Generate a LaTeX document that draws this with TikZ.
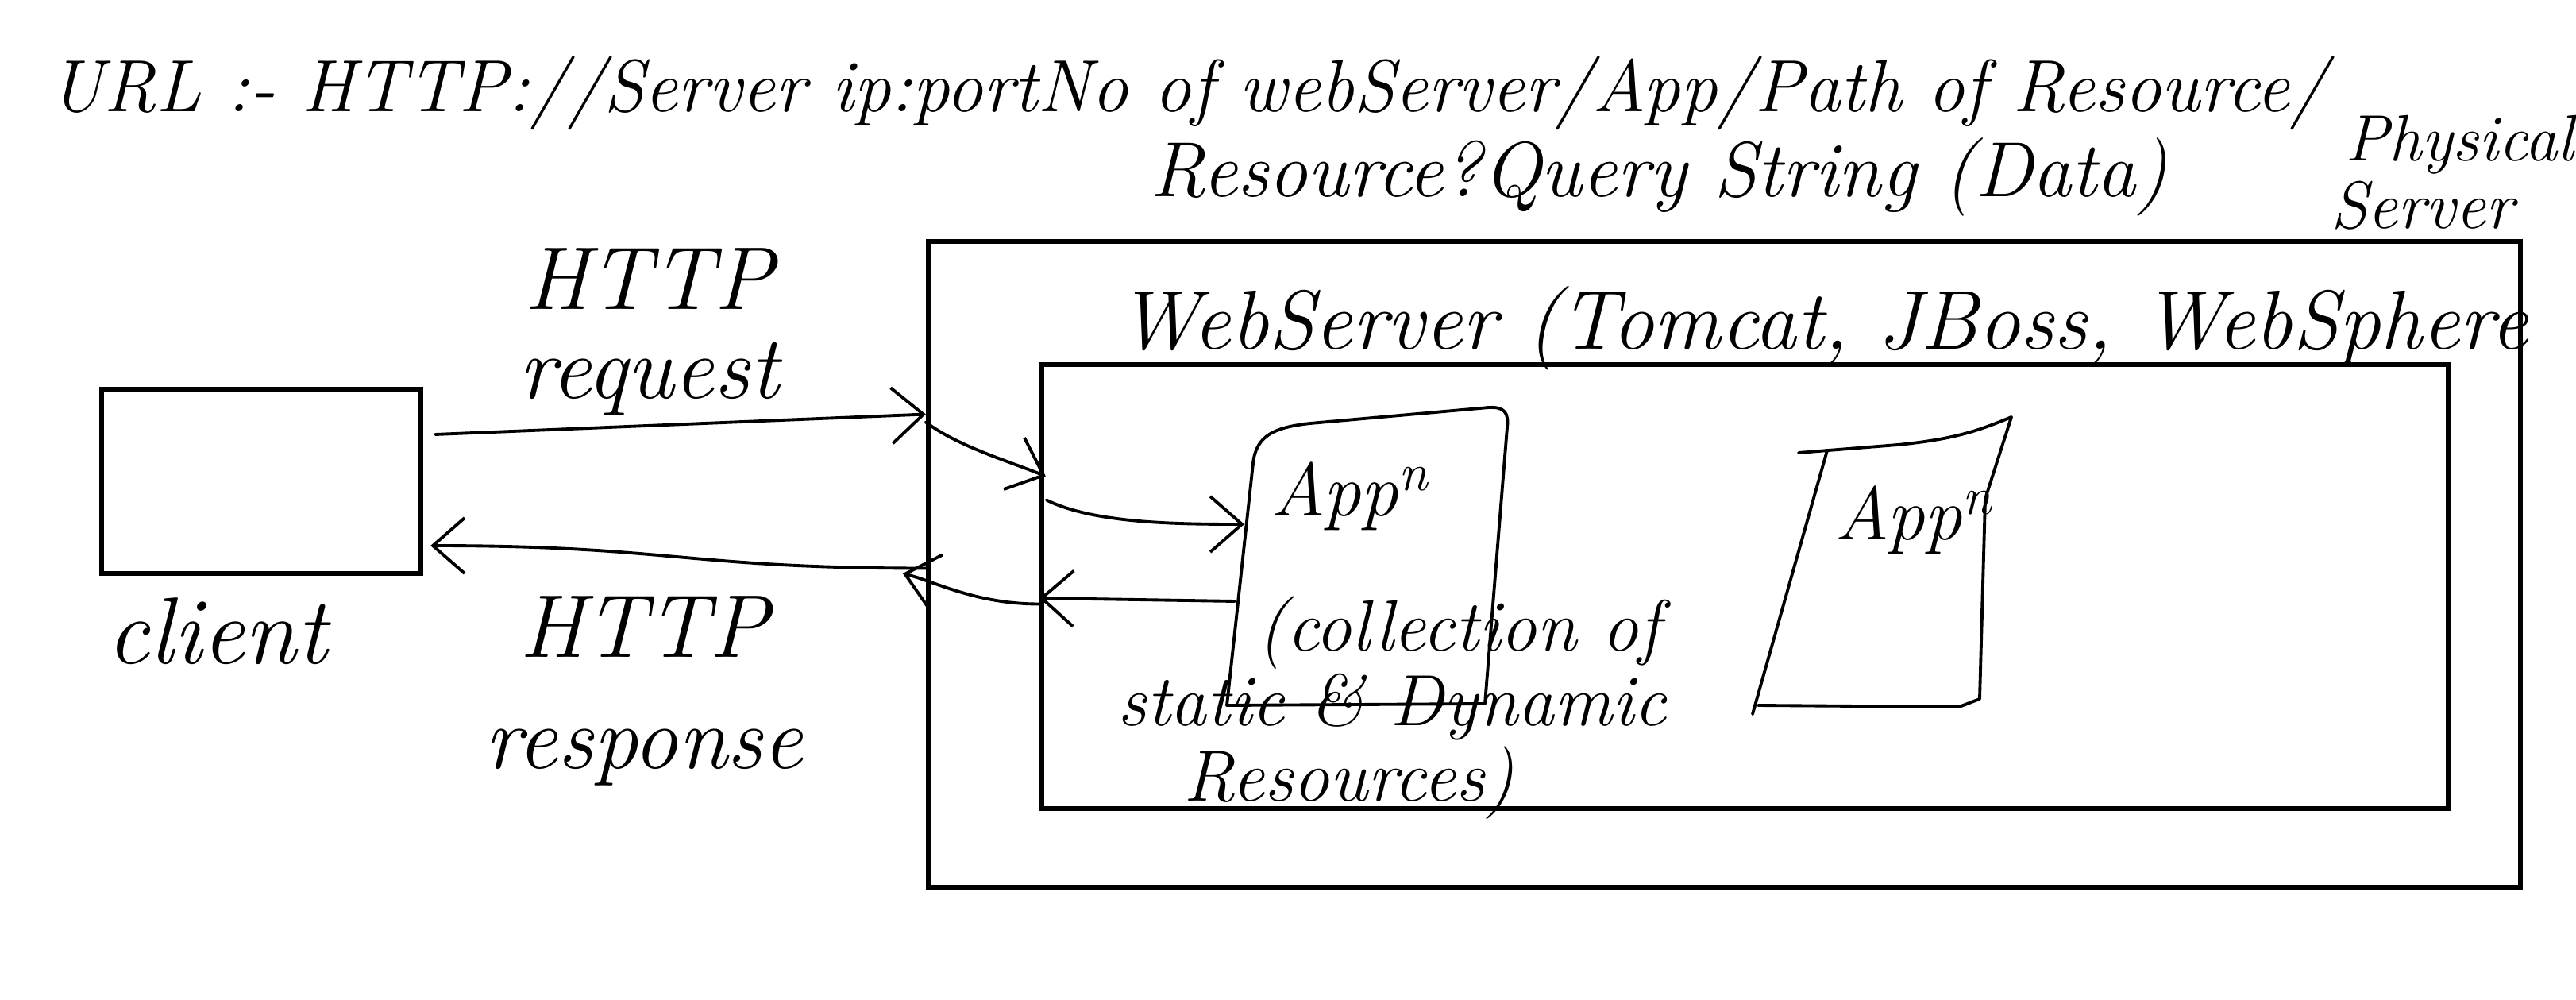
\documentclass[tikz,border=0pt]{standalone}
\usepackage{tikz}
\usetikzlibrary{arrows.meta,calc}
\tikzset{
  frame/.style={draw=black,line width=1.8pt,inner sep=0pt},
  sketch/.style={black,line width=1.1pt,line cap=round,line join=round},
  flow/.style={sketch,-{Straight Barb[length=4mm,width=7mm]}},
  hand/.style={font=\fontsize{26}{30}\selectfont\itshape,inner sep=0pt},
  bighand/.style={font=\fontsize{32}{32}\selectfont\itshape,inner sep=0pt,align=center},
}

\begin{document}
\begin{tikzpicture}[x=1cm,y=1cm]
  \path[use as bounding box] (0,0) rectangle (32.44,12.58);
  \node[hand,font=\fontsize{26.5}{30}\selectfont\itshape,anchor=base west] (url) at (0.62,11.17)
    {URL :- HTTP://Server ip:portNo of webServer/App/Path of Resource/};
  \node[hand,font=\fontsize{28}{30}\selectfont\itshape,anchor=base west] (query) at (14.48,10.10)
    {Resource?Query String (Data)};
  \node[hand,font=\fontsize{23.5}{26}\selectfont\itshape,anchor=base east] (phys) at (32.42,10.55) {Physical};
  \node[hand,font=\fontsize{24}{26}\selectfont\itshape,anchor=base] (physsrv) at (30.5,9.70) {Server};

  \node[frame,minimum width=200.5mm,minimum height=81.3mm] (server) at (21.715,5.475) {};
  \node[frame,minimum width=177.1mm,minimum height=55.9mm] (box) at (21.975,5.195) {};
  \node[frame,minimum width=40.2mm,minimum height=23.2mm] (client) at (3.29,6.52) {};
  \node[bighand,font=\fontsize{34}{34}\selectfont\itshape,anchor=base west] (clientlab) at (1.34,4.22) {client};
  \node[hand,font=\fontsize{30}{32}\selectfont\itshape,anchor=base west] (wslab) at (14.07,8.18)
    {WebServer (Tomcat, JBoss, WebSphere};

  \draw[sketch] (15.45,3.70) -- (15.78,6.75) .. controls (15.82,7.10) and (16.05,7.20) .. (16.5,7.25)
    -- (18.75,7.45) .. controls (18.95,7.46) and (19.0,7.38) .. (18.98,7.20) -- (18.70,3.72) -- cycle;
  \node[hand,font=\fontsize{27}{30}\selectfont\itshape] (appA) at (17.0,6.33) {App\textsuperscript{n}};
  \node[hand,anchor=base west] (coll) at (15.83,4.38) {(collection of};
  \node[hand,anchor=base west] (kinds) at (14.07,3.45) {static \& Dynamic};
  \node[hand,anchor=base west] (res) at (14.90,2.50) {Resources)};

  \draw[sketch] (22.65,6.88) -- (23.9,6.98) .. controls (24.6,7.05) and (24.9,7.15) .. (25.33,7.33)
    -- (25.0,6.3) -- (24.93,3.78) -- (24.67,3.68) -- (22.14,3.70);
  \draw[sketch] (23.01,6.91) -- (22.07,3.59);
  \node[hand,font=\fontsize{27}{30}\selectfont\itshape] (appB) at (24.10,6.03) {App\textsuperscript{n}};

  \node[bighand] (reqlab) at (8.17,8.40) {HTTP\\request};
  \node[bighand] (reslab) at (8.11,3.88) {HTTP\\[8pt]response};

  \coordinate (reqA) at ([xshift=1.5mm,yshift=5.9mm]client.east);
  \coordinate (reqB) at ([yshift=18.9mm]server.west);
  \draw[flow] (reqA) -- (reqB);
  \coordinate (ctin) at ([xshift=0.8mm,yshift=13.9mm]box.west);
  \draw[flow] ([yshift=-1mm]reqB) .. controls +(0.4,-0.3) and +(-0.5,0.2) .. (ctin);
  \coordinate (ctout) at ([xshift=0.9mm,yshift=10.9mm]box.west);
  \coordinate (appin) at (15.67,5.98);
  \draw[flow] (ctout) .. controls +(0.6,-0.3) and +(-0.8,0) .. (appin);
  \coordinate (appout) at (15.55,5.01);
  \coordinate (ctback) at ([yshift=-1.45mm]box.west);
  \draw[flow] (appout) -- (ctback);
  \coordinate (srvback) at ([xshift=-2.9mm,yshift=-1.15mm]server.west);
  \draw[flow] ([yshift=-2.2mm]box.west) .. controls +(-0.8,0) and +(0.4,-0.1) .. (srvback);
  \coordinate (resB) at ([xshift=0.9mm,yshift=-8.1mm]client.east);
  \draw[flow] ([yshift=-0.5mm]server.west) .. controls +(-3,0) and +(3,0) .. (resB);
\end{tikzpicture}
\end{document}
